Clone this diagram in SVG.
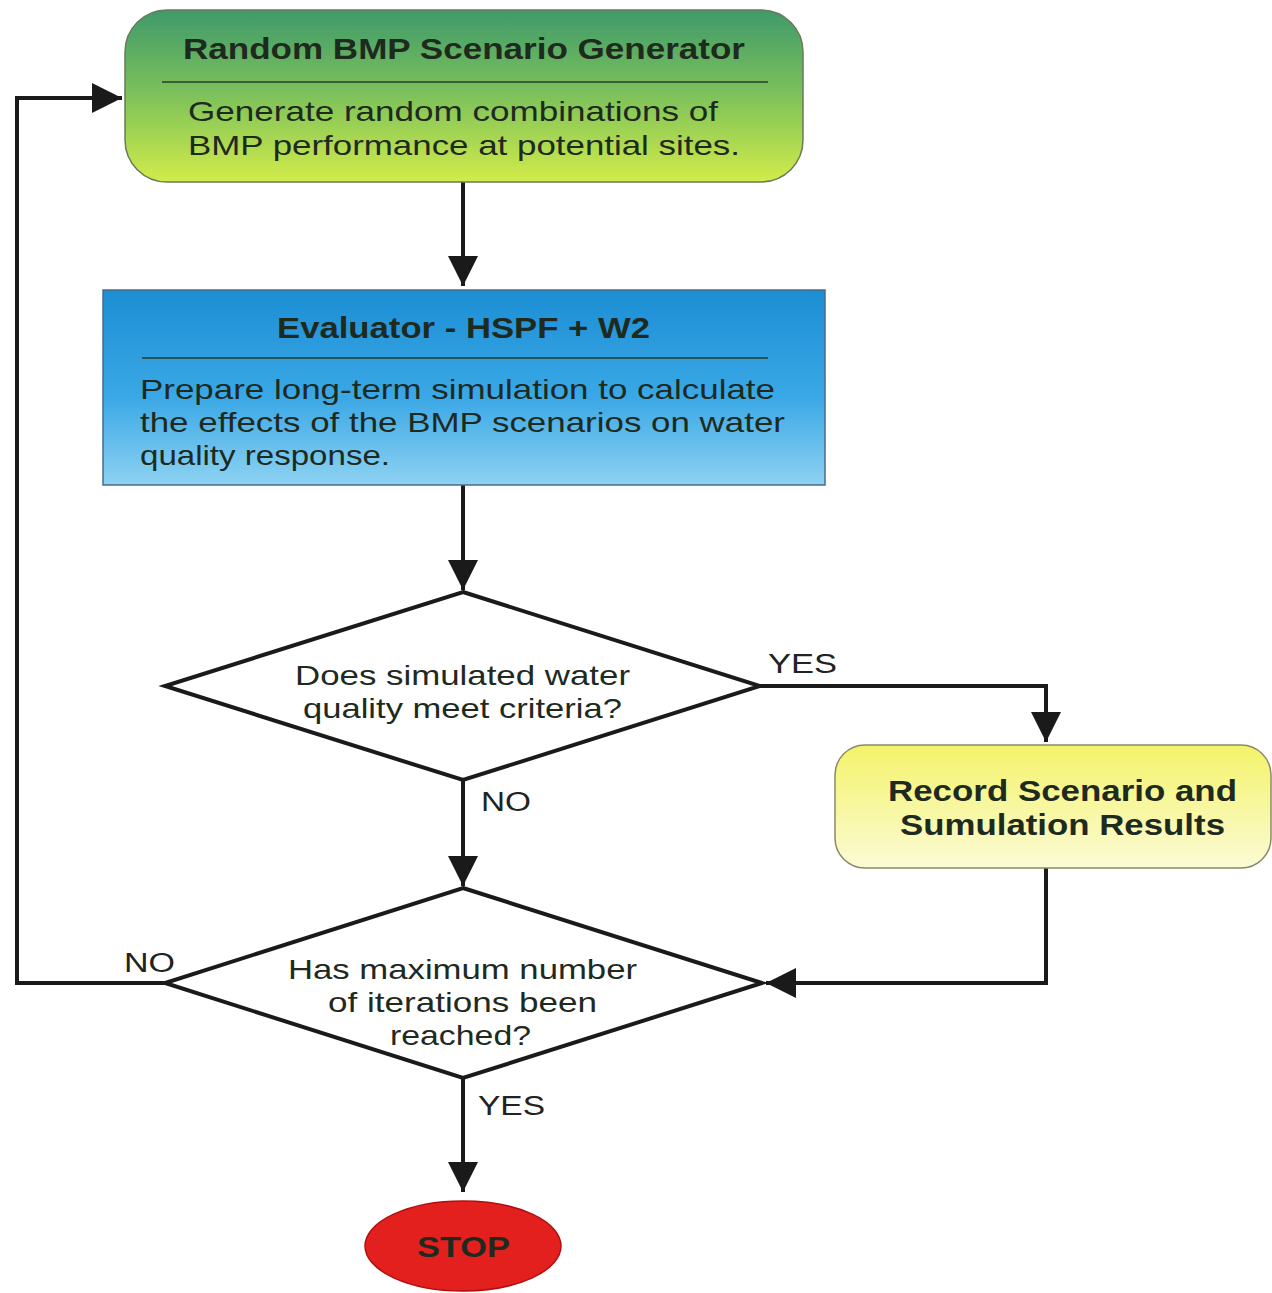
<svg xmlns="http://www.w3.org/2000/svg" width="1272" height="1293" viewBox="0 0 1272 1293">
<defs>
<linearGradient id="gGreen" x1="0" y1="0" x2="0" y2="1">
<stop offset="0" stop-color="#3f9a6a"/>
<stop offset="0.5" stop-color="#7ec25a"/>
<stop offset="1" stop-color="#d2ec4a"/>
</linearGradient>
<linearGradient id="gBlue" x1="0" y1="0" x2="0" y2="1">
<stop offset="0" stop-color="#1c8ed4"/>
<stop offset="0.55" stop-color="#3aa8e6"/>
<stop offset="1" stop-color="#8ed2f2"/>
</linearGradient>
<linearGradient id="gYellow" x1="0" y1="0" x2="0" y2="1">
<stop offset="0" stop-color="#f4f36a"/>
<stop offset="1" stop-color="#fbfbd6"/>
</linearGradient>
<marker id="ah" viewBox="0 0 10 10" refX="10" refY="5" markerWidth="7.5" markerHeight="7.5" markerUnits="strokeWidth" orient="auto">
<path d="M0,0 L10,5 L0,10 Z" fill="#1a1a1a"/>
</marker>
<style>
.t{font-family:"Liberation Sans",Arial,sans-serif;fill:#1f2a1f}
.h{font-weight:bold;font-size:29px}
.b{font-size:28px}
.lbl{font-family:"Liberation Sans",Arial,sans-serif;font-size:27px;fill:#222}
.c{fill:none;stroke:#1a1a1a;stroke-width:4}
.sep{stroke:#2a3a2a;stroke-width:1.5}
</style>
</defs>
<rect width="1272" height="1293" fill="#ffffff"/>
<g id="connectors">
<line class="c" x1="463" y1="182" x2="463" y2="286" marker-end="url(#ah)"/>
<line class="c" x1="463" y1="485" x2="463" y2="590" marker-end="url(#ah)"/>
<polyline class="c" points="760,686 1046,686 1046,742" marker-end="url(#ah)"/>
<line class="c" x1="463" y1="780" x2="463" y2="886" marker-end="url(#ah)"/>
<polyline class="c" points="1046,868 1046,983 766,983" marker-end="url(#ah)"/>
<polyline class="c" points="165,983 17,983 17,98 122,98" marker-end="url(#ah)"/>
<line class="c" x1="463" y1="1078" x2="463" y2="1192" marker-end="url(#ah)"/>
<text class="lbl" x="768" y="673" textLength="69" lengthAdjust="spacingAndGlyphs">YES</text>
<text class="lbl" x="481" y="811" textLength="50" lengthAdjust="spacingAndGlyphs">NO</text>
<text class="lbl" x="124" y="972" textLength="51" lengthAdjust="spacingAndGlyphs">NO</text>
<text class="lbl" x="478" y="1115" textLength="67" lengthAdjust="spacingAndGlyphs">YES</text>
</g>
<g id="generator">
<rect x="125" y="10" width="678" height="172" rx="42" fill="url(#gGreen)" stroke="#6a7a5a" stroke-width="1.5"/>
<text class="t h" x="183" y="59" textLength="562" lengthAdjust="spacingAndGlyphs">Random BMP Scenario Generator</text>
<line class="sep" x1="162" y1="82" x2="768" y2="82"/>
<text class="t b" x="188" y="121" textLength="530" lengthAdjust="spacingAndGlyphs">Generate random combinations of</text>
<text class="t b" x="188" y="155" textLength="552" lengthAdjust="spacingAndGlyphs">BMP performance at potential sites.</text>
</g>
<g id="evaluator">
<rect x="103" y="290" width="722" height="195" fill="url(#gBlue)" stroke="#4a6a8a" stroke-width="1.5"/>
<text class="t h" x="277" y="338" textLength="373" lengthAdjust="spacingAndGlyphs">Evaluator - HSPF + W2</text>
<line class="sep" x1="142" y1="358" x2="768" y2="358"/>
<text class="t b" x="140" y="399" textLength="635" lengthAdjust="spacingAndGlyphs">Prepare long-term simulation to calculate</text>
<text class="t b" x="140" y="432" textLength="645" lengthAdjust="spacingAndGlyphs">the effects of the BMP scenarios on water</text>
<text class="t b" x="140" y="465" textLength="250" lengthAdjust="spacingAndGlyphs">quality response.</text>
</g>
<g id="decision1">
<polygon points="463,592 760,686 463,780 165,686" fill="#ffffff" stroke="#1a1a1a" stroke-width="4"/>
<text class="t b" x="295" y="685" textLength="335" lengthAdjust="spacingAndGlyphs">Does simulated water</text>
<text class="t b" x="303" y="718" textLength="319" lengthAdjust="spacingAndGlyphs">quality meet criteria?</text>
</g>
<g id="record">
<rect x="835" y="745" width="436" height="123" rx="30" fill="url(#gYellow)" stroke="#8a8a6a" stroke-width="1.5"/>
<text class="t h" x="888" y="801" textLength="349" lengthAdjust="spacingAndGlyphs">Record Scenario and</text>
<text class="t h" x="900" y="835" textLength="325" lengthAdjust="spacingAndGlyphs">Sumulation Results</text>
</g>
<g id="decision2">
<polygon points="463,888 762,983 463,1078 165,983" fill="#ffffff" stroke="#1a1a1a" stroke-width="4"/>
<text class="t b" x="288" y="979" textLength="349" lengthAdjust="spacingAndGlyphs">Has maximum number</text>
<text class="t b" x="328" y="1012" textLength="269" lengthAdjust="spacingAndGlyphs">of iterations been</text>
<text class="t b" x="390" y="1045" textLength="141" lengthAdjust="spacingAndGlyphs">reached?</text>
</g>
<g id="stop">
<ellipse cx="463" cy="1246" rx="98" ry="45" fill="#e3201e" stroke="#b01010" stroke-width="1.5"/>
<text class="t h" x="417" y="1257" textLength="93" lengthAdjust="spacingAndGlyphs" fill="#2a0a0a">STOP</text>
</g>
</svg>
